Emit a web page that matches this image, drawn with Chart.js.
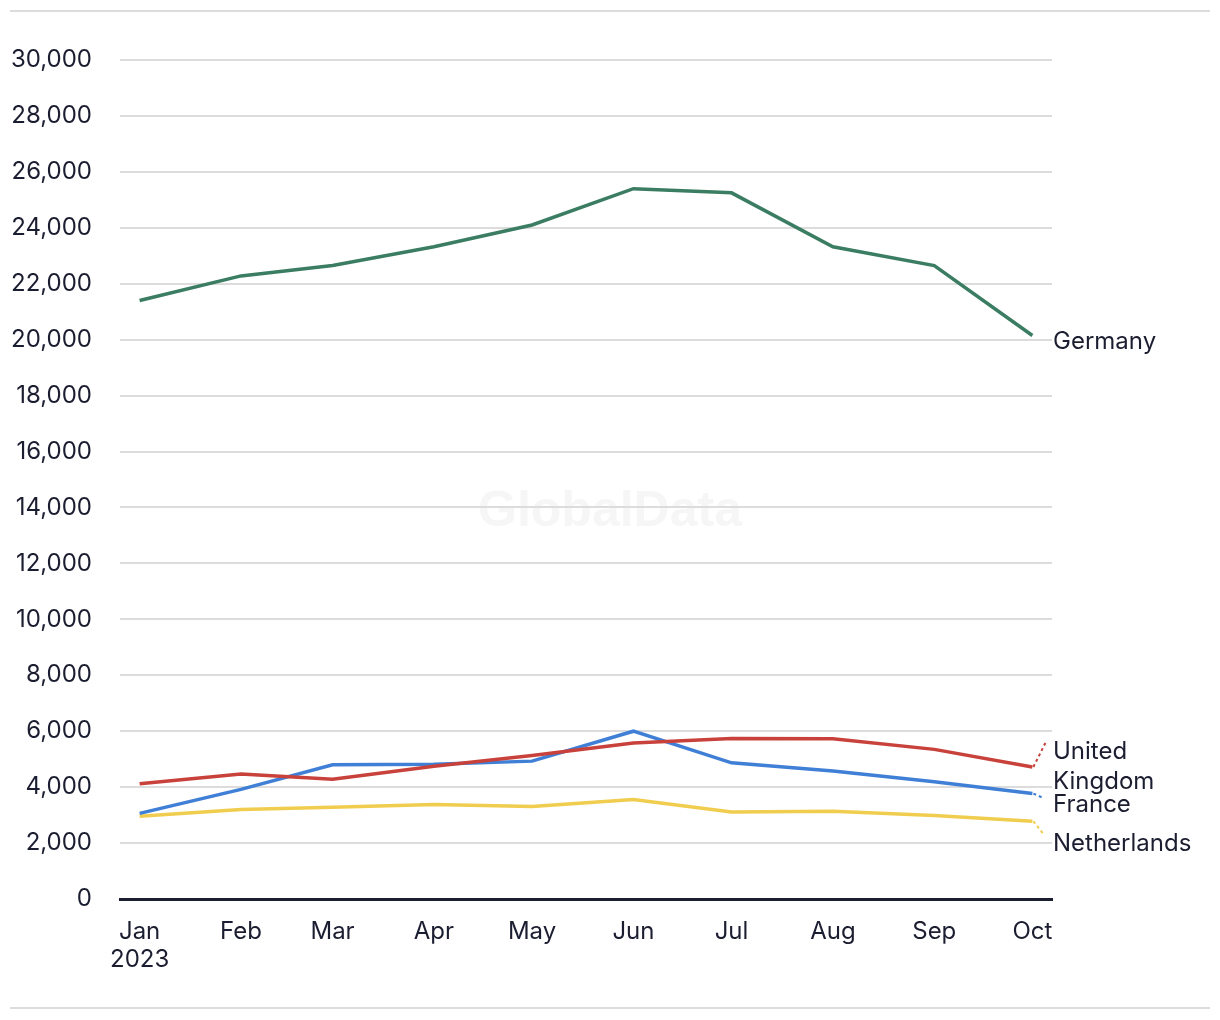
<!DOCTYPE html>
<html>
<head>
<meta charset="utf-8">
<script src="https://cdn.jsdelivr.net/npm/chart.js@4/dist/chart.umd.min.js"></script>
<style>
  html, body { margin: 0; padding: 0; background: #fff; }
  #wrap { width: 1220px; height: 1020px; position: relative; }
</style>
</head>
<body>
<div id="wrap"><canvas id="chart" width="1220" height="1020"></canvas></div>
<script>
// day offset from 1 Jan 2023 for each month
const monthDays = [0, 31, 59, 90, 120, 151, 181, 212, 243, 273];
const monthLabels = ["Jan", "Feb", "Mar", "Apr", "May", "Jun", "Jul", "Aug", "Sep", "Oct"];
const yearLabel = "2023";

const germany = [21400, 22280, 22650, 23320, 24100, 25400, 25250, 23320, 22650, 20150];
const unitedKingdom = [4120, 4470, 4280, 4750, 5130, 5580, 5740, 5730, 5350, 4720];
const france = [3060, 3920, 4800, 4820, 4930, 6000, 4870, 4580, 4190, 3770];
const netherlands = [2960, 3200, 3280, 3380, 3310, 3560, 3110, 3140, 2990, 2780];

const textColor = "#1b1d30";
const fontFamily = "Inter, 'Noto Sans', sans-serif";

function toPoints(values) {
  return values.map((v, i) => ({ x: monthDays[i], y: v }));
}

const series = [
  { label: "Germany", data: germany, color: "#3a7d62", lines: ["Germany"], dy: 6, leader: null },
  { label: "United Kingdom", data: unitedKingdom, color: "#c8423b", lines: ["United", "Kingdom"], dy: -15, leader: [13, -24] },
  { label: "France", data: france, color: "#3f7fd6", lines: ["France"], dy: 11, leader: [10, 4] },
  { label: "Netherlands", data: netherlands, color: "#f0cd4e", lines: ["Netherlands"], dy: 23, leader: [12, 14] },
];

const endLabels = {
  id: "endLabels",
  beforeDraw(chart) {
    const ctx = chart.ctx;
    ctx.save();
    ctx.strokeStyle = "#dcdcdc";
    ctx.lineWidth = 2;
    ctx.beginPath();
    ctx.moveTo(10, 11); ctx.lineTo(1210, 11);
    ctx.moveTo(10, 1008); ctx.lineTo(1210, 1008);
    ctx.stroke();
    // watermark
    ctx.fillStyle = "#f6f6f6";
    ctx.font = "bold 50px 'Liberation Sans', Arial, sans-serif";
    ctx.textAlign = "center";
    ctx.textBaseline = "middle";
    ctx.fillText("GlobalData", 610, 512);
    ctx.restore();
  },
  afterDatasetsDraw(chart) {
    const ctx = chart.ctx;
    ctx.save();
    ctx.font = "24px " + fontFamily;
    ctx.fillStyle = textColor;
    ctx.textAlign = "left";
    ctx.textBaseline = "middle";
    series.forEach((s, i) => {
      const meta = chart.getDatasetMeta(i);
      const pt = meta.data[meta.data.length - 1];
      const labelY = pt.y + s.dy;
      if (s.leader) {
        ctx.save();
        ctx.strokeStyle = s.color;
        ctx.lineWidth = 2;
        ctx.setLineDash([3, 3]);
        ctx.beginPath();
        ctx.moveTo(pt.x + 1, pt.y);
        ctx.lineTo(pt.x + s.leader[0], pt.y + s.leader[1]);
        ctx.stroke();
        ctx.restore();
      }
      s.lines.forEach((ln, j) => {
        ctx.fillText(ln, 1053, labelY + j * 30);
      });
    });
    ctx.restore();
  }
};

new Chart(document.getElementById("chart"), {
  type: "line",
  data: {
    datasets: series.map((s, i) => ({
      label: s.label,
      data: toPoints(s.data),
      borderColor: s.color,
      backgroundColor: s.color,
      borderWidth: 3.5,
      pointRadius: 0,
      tension: 0,
      order: [4, 1, 2, 3][i]
    }))
  },
  options: {
    responsive: false,
    animation: false,
    layout: { padding: { top: 60, right: 168, bottom: 0, left: 0 } },
    plugins: { legend: { display: false }, tooltip: { enabled: false } },
    scales: {
      x: {
        type: "linear",
        min: -6,
        max: 279,
        afterBuildTicks(scale) {
          scale.ticks = monthDays.map(v => ({ value: v }));
        },
        afterFit(scale) { scale.height = 121; },
        grid: { display: false, drawTicks: false },
        border: { display: true, color: textColor, width: 3 },
        ticks: {
          autoSkip: false,
          maxRotation: 0,
          padding: 18,
          color: textColor,
          font: { family: fontFamily, size: 24 },
          callback(value) {
            const i = monthDays.indexOf(value);
            if (i === 0) return [monthLabels[0], yearLabel];
            return monthLabels[i];
          }
        }
      },
      y: {
        min: 0,
        max: 30000,
        afterFit(scale) { scale.width = 120; },
        grid: { color: "#dcdcdc", lineWidth: 2, drawTicks: false },
        border: { display: false },
        ticks: {
          stepSize: 2000,
          padding: 28,
          color: textColor,
          font: { family: fontFamily, size: 24 },
          callback: v => v.toLocaleString("en-US")
        }
      }
    }
  },
  plugins: [endLabels]
});
</script>
</body>
</html>
